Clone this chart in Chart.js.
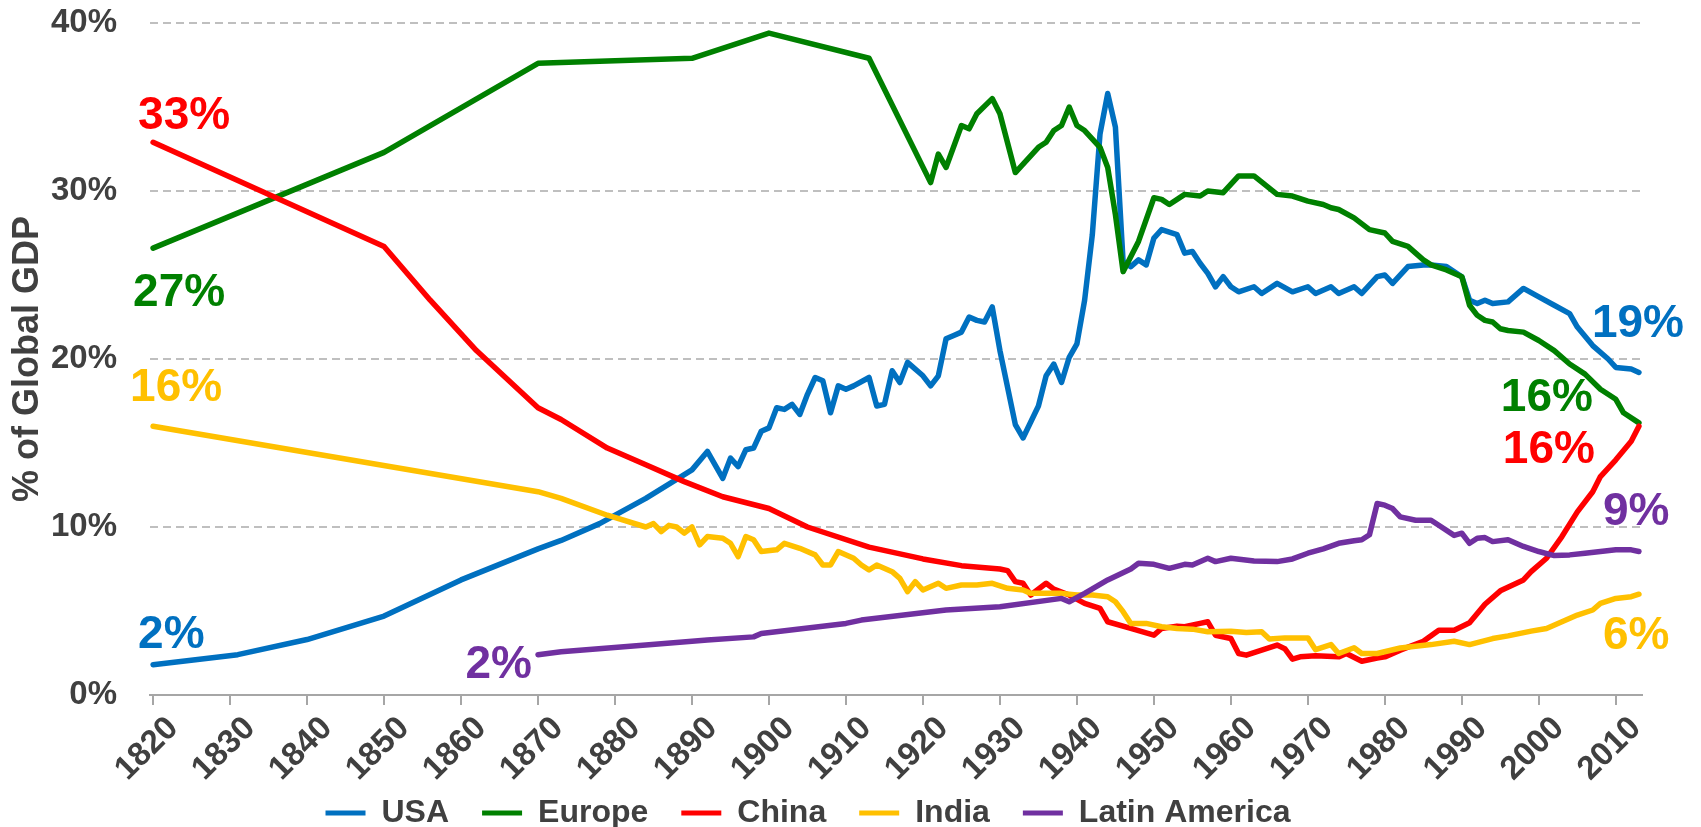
<!DOCTYPE html>
<html>
<head>
<meta charset="utf-8">
<title>Share of Global GDP</title>
<script src="https://cdn.jsdelivr.net/npm/chart.js@4.4.1/dist/chart.umd.min.js"></script>
<style>
  html, body { margin: 0; padding: 0; background: #ffffff; overflow: hidden; }
  #gdp_chart { display: block; position: absolute; left: 0; top: 0; }
</style>
</head>
<body>
<canvas id="gdp_chart" width="1701" height="827"></canvas>
<script>
// share of global GDP (%)
var decadeTicks = [1820, 1830, 1840, 1850, 1860, 1870, 1880, 1890, 1900, 1910,
                   1920, 1930, 1940, 1950, 1960, 1970, 1980, 1990, 2000, 2010];

var usaYears = [1820,1831,1840,1850,1860,1870,1873,1878,1884,1890,
                1892,1894,1895,1896,1897,1898,1899,1900,1901,1902,
                1903,1904,1905,1906,1907,1908,1909,1910,1911,1913,
                1914,1915,1916,1917,1918,1920,1921,1922,1923,1924,
                1925,1926,1927,1928,1929,1930,1932,1933,1935,1936,
                1937,1938,1939,1940,1941,1942,1943,1944,1945,1946,
                1947,1948,1949,1950,1951,1953,1954,1955,1956,1957,
                1958,1959,1960,1961,1963,1964,1966,1968,1970,1971,
                1973,1974,1976,1977,1979,1980,1981,1983,1985,1986,
                1988,1990,1991,1992,1993,1994,1996,1998,2000,2002,
                2004,2005,2007,2009,2010,2012,2013];
var usaShare = [1.8,2.4,3.3,4.7,6.85,8.7,9.2,10.2,11.7,13.4,
                14.5,12.9,14.1,13.6,14.6,14.7,15.7,15.9,17.1,17.0,
                17.3,16.7,17.9,18.9,18.7,16.8,18.4,18.2,18.4,18.9,
                17.2,17.3,19.3,18.6,19.8,19.0,18.4,19.0,21.2,21.4,
                21.6,22.5,22.3,22.2,23.1,20.5,16.1,15.3,17.2,19.0,
                19.7,18.6,20.1,20.9,23.5,27.4,33.4,35.8,33.8,25.8,
                25.5,25.9,25.6,27.2,27.7,27.4,26.3,26.4,25.7,25.1,
                24.3,24.9,24.3,24.0,24.3,23.9,24.5,24.0,24.3,23.9,
                24.3,23.9,24.3,23.9,24.9,25.0,24.5,25.5,25.6,25.6,
                25.5,24.9,23.5,23.3,23.5,23.3,23.4,24.2,23.7,23.2,
                22.7,21.9,20.8,20.0,19.5,19.4,19.2];

var europeYears = [1820,1850,1870,1890,1900,1913,1921,1922,1923,1925,
                   1926,1927,1929,1930,1932,1935,1936,1937,1938,1939,
                   1940,1941,1943,1944,1945,1946,1948,1950,1951,1952,
                   1954,1956,1957,1959,1961,1963,1966,1968,1970,1972,
                   1973,1974,1976,1978,1980,1981,1983,1985,1986,1988,
                   1990,1991,1992,1993,1994,1995,1996,1998,2000,2002,
                   2004,2006,2008,2010,2011,2013];
var europeShare = [26.6,32.3,37.6,37.9,39.4,37.9,30.5,32.2,31.4,33.9,
                   33.7,34.6,35.5,34.6,31.1,32.6,32.9,33.6,33.9,35.0,
                   33.9,33.6,32.6,31.4,28.6,25.2,27.0,29.6,29.5,29.2,
                   29.8,29.7,30.0,29.9,30.9,30.9,29.8,29.7,29.4,29.2,
                   29.0,28.9,28.4,27.7,27.5,27.0,26.7,25.9,25.6,25.3,
                   24.9,23.2,22.6,22.3,22.2,21.8,21.7,21.6,21.1,20.5,
                   19.7,19.1,18.2,17.6,16.8,16.2];

var chinaYears = [1820,1850,1856,1862,1870,1873,1879,1884,1889,1894,
                  1900,1905,1913,1920,1925,1930,1931,1932,1933,1934,
                  1936,1937,1939,1941,1943,1944,1947,1950,1951,1953,
                  1954,1956,1957,1958,1960,1961,1962,1964,1966,1967,
                  1968,1969,1971,1974,1975,1977,1979,1980,1982,1985,
                  1987,1989,1991,1993,1995,1998,1999,2001,2003,2005,
                  2007,2008,2010,2012,2013];
var chinaShare = [32.9,26.7,23.5,20.5,17.1,16.4,14.7,13.7,12.7,11.8,
                  11.1,10.0,8.8,8.1,7.7,7.5,7.4,6.75,6.65,5.95,
                  6.65,6.3,5.95,5.45,5.15,4.36,3.96,3.56,3.96,4.1,
                  4.06,4.26,4.36,3.56,3.36,2.47,2.37,2.67,2.97,2.76,
                  2.13,2.27,2.33,2.27,2.47,2.01,2.2,2.27,2.67,3.2,
                  3.86,3.86,4.3,5.4,6.2,6.85,7.34,8.14,9.43,10.9,
                  12.1,13.0,14.0,15.1,16.0];

var indiaYears = [1820,1870,1873,1879,1884,1885,1886,1887,1888,1889,
                  1890,1891,1892,1894,1895,1896,1897,1898,1899,1901,
                  1902,1904,1906,1907,1908,1909,1911,1912,1913,1914,
                  1916,1917,1918,1919,1920,1922,1923,1925,1927,1929,
                  1931,1933,1934,1938,1940,1942,1944,1945,1946,1947,
                  1949,1951,1953,1955,1957,1960,1962,1964,1965,1967,
                  1970,1971,1973,1974,1976,1977,1979,1982,1986,1989,
                  1991,1994,1996,1999,2001,2003,2005,2007,2008,2010,
                  2012,2013];
var indiaShare = [16.0,12.1,11.7,10.7,10.0,10.2,9.73,10.1,10.0,9.63,
                  10.0,8.94,9.43,9.33,9.03,8.24,9.43,9.24,8.54,8.64,
                  9.03,8.73,8.34,7.74,7.74,8.54,8.14,7.74,7.44,7.74,
                  7.34,6.94,6.15,6.75,6.25,6.65,6.35,6.55,6.55,6.65,
                  6.35,6.25,6.05,6.05,5.95,5.95,5.85,5.55,4.96,4.26,
                  4.26,4.06,3.96,3.92,3.76,3.8,3.72,3.76,3.33,3.4,
                  3.4,2.7,3.0,2.47,2.81,2.47,2.47,2.8,3.0,3.2,
                  3.0,3.36,3.52,3.8,3.96,4.36,4.76,5.06,5.45,5.75,
                  5.85,6.0];

var latamYears = [1870,1873,1884,1892,1898,1899,1910,1912,1923,1930,
                  1938,1939,1941,1944,1947,1948,1950,1952,1954,1955,
                  1957,1958,1960,1963,1966,1968,1970,1972,1974,1976,
                  1977,1978,1979,1980,1981,1982,1984,1986,1987,1989,
                  1990,1991,1992,1993,1994,1996,1998,2000,2002,2004,
                  2006,2008,2010,2012,2013];
var latamShare = [2.4,2.57,2.97,3.27,3.46,3.66,4.26,4.46,5.06,5.25,
                  5.75,5.55,6.05,6.85,7.5,7.84,7.78,7.54,7.78,7.74,
                  8.14,7.94,8.14,7.98,7.94,8.1,8.44,8.7,9.03,9.18,
                  9.24,9.54,11.4,11.3,11.1,10.6,10.4,10.4,10.1,9.5,
                  9.63,9.03,9.33,9.37,9.13,9.24,8.84,8.54,8.3,8.34,
                  8.44,8.54,8.64,8.64,8.54];

var fontFamily = "'Liberation Sans', Arial, sans-serif";
var textGrey = '#404040';

function toPoints(years, values) {
    var pts = [];
    for (var i = 0; i < years.length; i++) {
        pts.push({ x: years[i], y: values[i] });
    }
    return pts;
}

function makeSeries(label, years, values, color, order) {
    return {
        label: label,
        data: toPoints(years, values),
        borderColor: color,
        backgroundColor: color,
        borderWidth: 5.5,
        pointRadius: 0,
        pointHoverRadius: 0,
        tension: 0,
        borderJoinStyle: 'round',
        borderCapStyle: 'round',
        order: order
    };
}

// big coloured % labels at the start and end of the lines
// dx/dy are pixel offsets from the first/last point of the series
var endLabels = [
    { ds: 2, end: 'first', dx: -15, dy: -30, align: 'left' },
    { ds: 1, end: 'first', dx: -20, dy: 41, align: 'left' },
    { ds: 3, end: 'first', dx: -23, dy: -42, align: 'left' },
    { ds: 0, end: 'first', dx: -15, dy: -33, align: 'left' },
    { ds: 4, end: 'first', dx: -6, dy: 7, align: 'right' },
    { ds: 0, end: 'last', dx: -47, dy: -52, align: 'left' },
    { ds: 1, end: 'last', dx: -46, dy: -28, align: 'right' },
    { ds: 2, end: 'last', dx: -44, dy: 20, align: 'right' },
    { ds: 4, end: 'last', dx: -36, dy: -43, align: 'left' },
    { ds: 3, end: 'last', dx: -36, dy: 38, align: 'left' }
];

var endLabelPlugin = {
    id: 'endLabels',
    afterDatasetsDraw: function(chart) {
        var ctx = chart.ctx;
        var size = 46;
        ctx.save();
        ctx.font = 'bold ' + size + 'px ' + fontFamily;
        ctx.textBaseline = 'alphabetic';
        endLabels.forEach(function(l) {
            var ds = chart.data.datasets[l.ds];
            var meta = chart.getDatasetMeta(l.ds);
            var idx = l.end === 'first' ? 0 : ds.data.length - 1;
            var pt = meta.data[idx];
            var txt = Math.round(ds.data[idx].y) + '%';
            ctx.fillStyle = ds.borderColor;
            ctx.textAlign = l.align;
            ctx.fillText(txt, pt.x + l.dx, pt.y + l.dy + size * 0.358);
        });
        ctx.restore();
    }
};

// after layout: let the rotated year labels run below the x box (chart.js clips
// them to it) and nudge the legend down/left to where the original has it
var layoutNudge = {
    id: 'layoutNudge',
    afterLayout: function(chart) {
        chart.scales.x.bottom = chart.height;
        var lg = chart.legend;
        if (!lg) return;
        lg.top += 12; lg.bottom += 12;
        lg.left -= 13; lg.right -= 13;
    }
};

var baseLabels = Chart.defaults.plugins.legend.labels.generateLabels;

var chart = new Chart(document.getElementById('gdp_chart').getContext('2d'), {
    type: 'line',
    data: {
        datasets: [
            makeSeries('USA', usaYears, usaShare, '#0070C0', 5),
            makeSeries('Europe', europeYears, europeShare, '#008000', 4),
            makeSeries('China', chinaYears, chinaShare, '#FF0000', 3),
            makeSeries('India', indiaYears, indiaShare, '#FFC000', 2),
            makeSeries('Latin America', latamYears, latamShare, '#7030A0', 1)
        ]
    },
    options: {
        responsive: false,
        animation: false,
        devicePixelRatio: 1,
        layout: {
            padding: { left: 0, right: 59, top: 23, bottom: 0 }
        },
        plugins: {
            tooltip: { enabled: false },
            legend: {
                position: 'bottom',
                labels: {
                    boxWidth: 40,
                    boxHeight: 5,
                    padding: 33,
                    color: textGrey,
                    font: { family: fontFamily, size: 32, weight: 'bold' },
                    sort: function(a, b) { return a.datasetIndex - b.datasetIndex; },
                    generateLabels: function(c) {
                        return baseLabels(c).map(function(item) {
                            item.lineWidth = 0;
                            item.fillStyle = item.strokeStyle;
                            return item;
                        });
                    }
                }
            }
        },
        scales: {
            x: {
                type: 'linear',
                min: 1819.6,
                max: 2013.4,
                afterBuildTicks: function(scale) {
                    scale.ticks = decadeTicks.map(function(v) { return { value: v }; });
                },
                afterFit: function(scale) { scale.height = 57; },
                ticks: {
                    autoSkip: false,
                    minRotation: 45,
                    maxRotation: 45,
                    padding: 4,
                    labelOffset: 20,
                    color: textGrey,
                    font: { family: fontFamily, size: 33, weight: 'bold' },
                    callback: function(v) { return String(v); }
                },
                grid: {
                    drawOnChartArea: false,
                    drawTicks: true,
                    tickLength: 10,
                    color: '#A6A6A6',
                    lineWidth: 2
                },
                border: { display: true, color: '#A6A6A6', width: 2 }
            },
            y: {
                min: 0,
                max: 40,
                afterFit: function(scale) { scale.width = 150; },
                ticks: {
                    stepSize: 10,
                    padding: 3,
                    color: textGrey,
                    font: { family: fontFamily, size: 33, weight: 'bold' },
                    callback: function(v) { return v + '%'; }
                },
                grid: {
                    drawTicks: true,
                    tickLength: 30,
                    tickColor: 'rgba(0,0,0,0)',
                    lineWidth: 2,
                    color: function(c) { return c.tick && c.tick.value === 0 ? 'rgba(0,0,0,0)' : '#BFBFBF'; }
                },
                border: { display: false, dash: [8, 5] },
                title: {
                    display: true,
                    text: '% of Global GDP',
                    color: textGrey,
                    font: { family: fontFamily, size: 36, weight: 'bold' },
                    padding: { top: 6, bottom: 0 }
                }
            }
        }
    },
    plugins: [endLabelPlugin, layoutNudge]
});
</script>
</body>
</html>
